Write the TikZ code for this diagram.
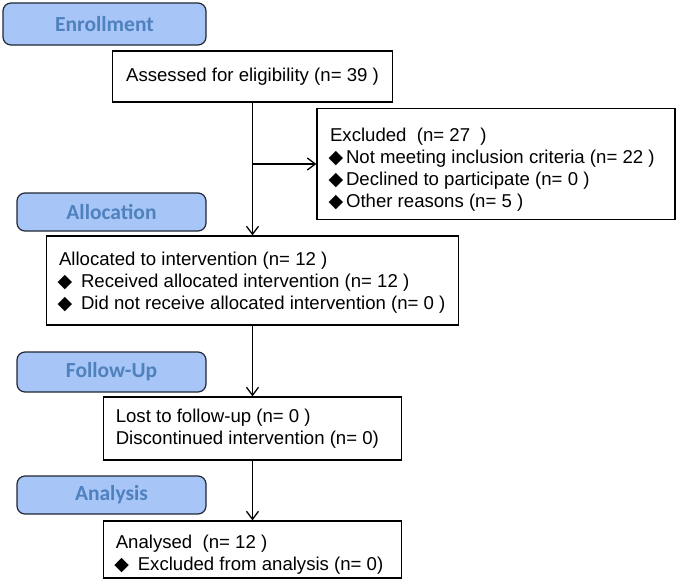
\documentclass[tikz,border=0pt]{standalone}
\usepackage{fontspec}
\setmainfont{Liberation Sans}
\newfontfamily\hdrfont{Carlito}
\newfontfamily\symfont{DejaVu Sans}
\usetikzlibrary{arrows.meta}
\definecolor{hdrfill}{RGB}{167,197,247}
\definecolor{hdrtext}{RGB}{79,129,189}
\definecolor{hdrline}{RGB}{32,40,52}
\newcommand{\dmd}{\makebox[12pt][c]{\symfont\fontsize{19}{19}\selectfont ◆}}
\begin{document}
\begin{tikzpicture}[x=1pt,y=-1pt,
  hdr/.style={draw=hdrline, line width=1.2pt, fill=hdrfill, rounded corners=8pt,
    minimum width=189pt, inner sep=0pt, text=hdrtext,
    font=\hdrfont\bfseries\fontsize{21.5}{24}\selectfont},
  box/.style={draw, line width=1.3pt, inner sep=0pt},
  txt/.style={anchor=west, inner sep=0pt, align=left,
    font=\fontsize{18.6}{22}\selectfont},
  arr/.style={line width=1.3pt, -{Straight Barb[length=8pt,width=12pt]}}]
\useasboundingbox (0,0) rectangle (678,582);

% stage headers
\node[hdr, minimum width=203pt, minimum height=42pt] (enr) at (104.5,24) {Enrollment};
\node[hdr, minimum height=38pt] (alh) at (111.5,212) {Allocation};
\node[hdr, minimum height=40pt] (fuh) at (111.5,372) {Follow-Up};
\node[hdr, minimum height=38pt] (anh) at (111.5,495) {Analysis};

% boxes
\node[box, minimum width=280pt, minimum height=51pt, font=\fontsize{18.6}{22}\selectfont] (ass) at (252.5,76.5)
  {Assessed for eligibility (n= 39 )};
\node[box, minimum width=358pt, minimum height=111pt] (exc) at (496,164) {};
\node[box, minimum width=412pt, minimum height=89pt] (alloc) at (252.5,280.5) {};
\node[box, minimum width=298.5pt, minimum height=63pt] (lost) at (252.5,428.5) {};
\node[box, minimum width=298.5pt, minimum height=57pt] (anl) at (252.5,549.5) {};

% box texts
\node[txt, xshift=13.5pt, yshift=-5.5pt] (exct) at (exc.west)
  {Excluded~~(n= 27~~)\\
   \dmd\hspace{4pt}Not meeting inclusion criteria (n= 22 )\\
   \dmd\hspace{4pt}Declined to participate (n= 0 )\\
   \dmd\hspace{4pt}Other reasons (n= 5 )};
\node[txt, xshift=13pt, yshift=-2.5pt] (allt) at (alloc.west)
  {Allocated to intervention (n= 12 )\\
   \dmd\hspace{10pt}Received allocated intervention (n= 12 )\\
   \dmd\hspace{10pt}Did not receive allocated intervention (n= 0 )};
\node[txt, xshift=13pt] (lostt) at (lost.west)
  {Lost to follow-up (n= 0 )\\
   Discontinued intervention (n= 0)};
\node[txt, xshift=13pt, yshift=-5pt] (anlt) at (anl.west)
  {Analysed~~(n= 12 )\\
   \dmd\hspace{10pt}Excluded from analysis (n= 0)};

% connectors
\coordinate (br) at (252.5,164);
\draw[arr] (ass) -- (alloc);
\draw[arr] (br) -- (exc.west);
\draw[arr] (alloc) -- (lost);
\draw[arr] (lost) -- (anl);
\end{tikzpicture}
\end{document}
